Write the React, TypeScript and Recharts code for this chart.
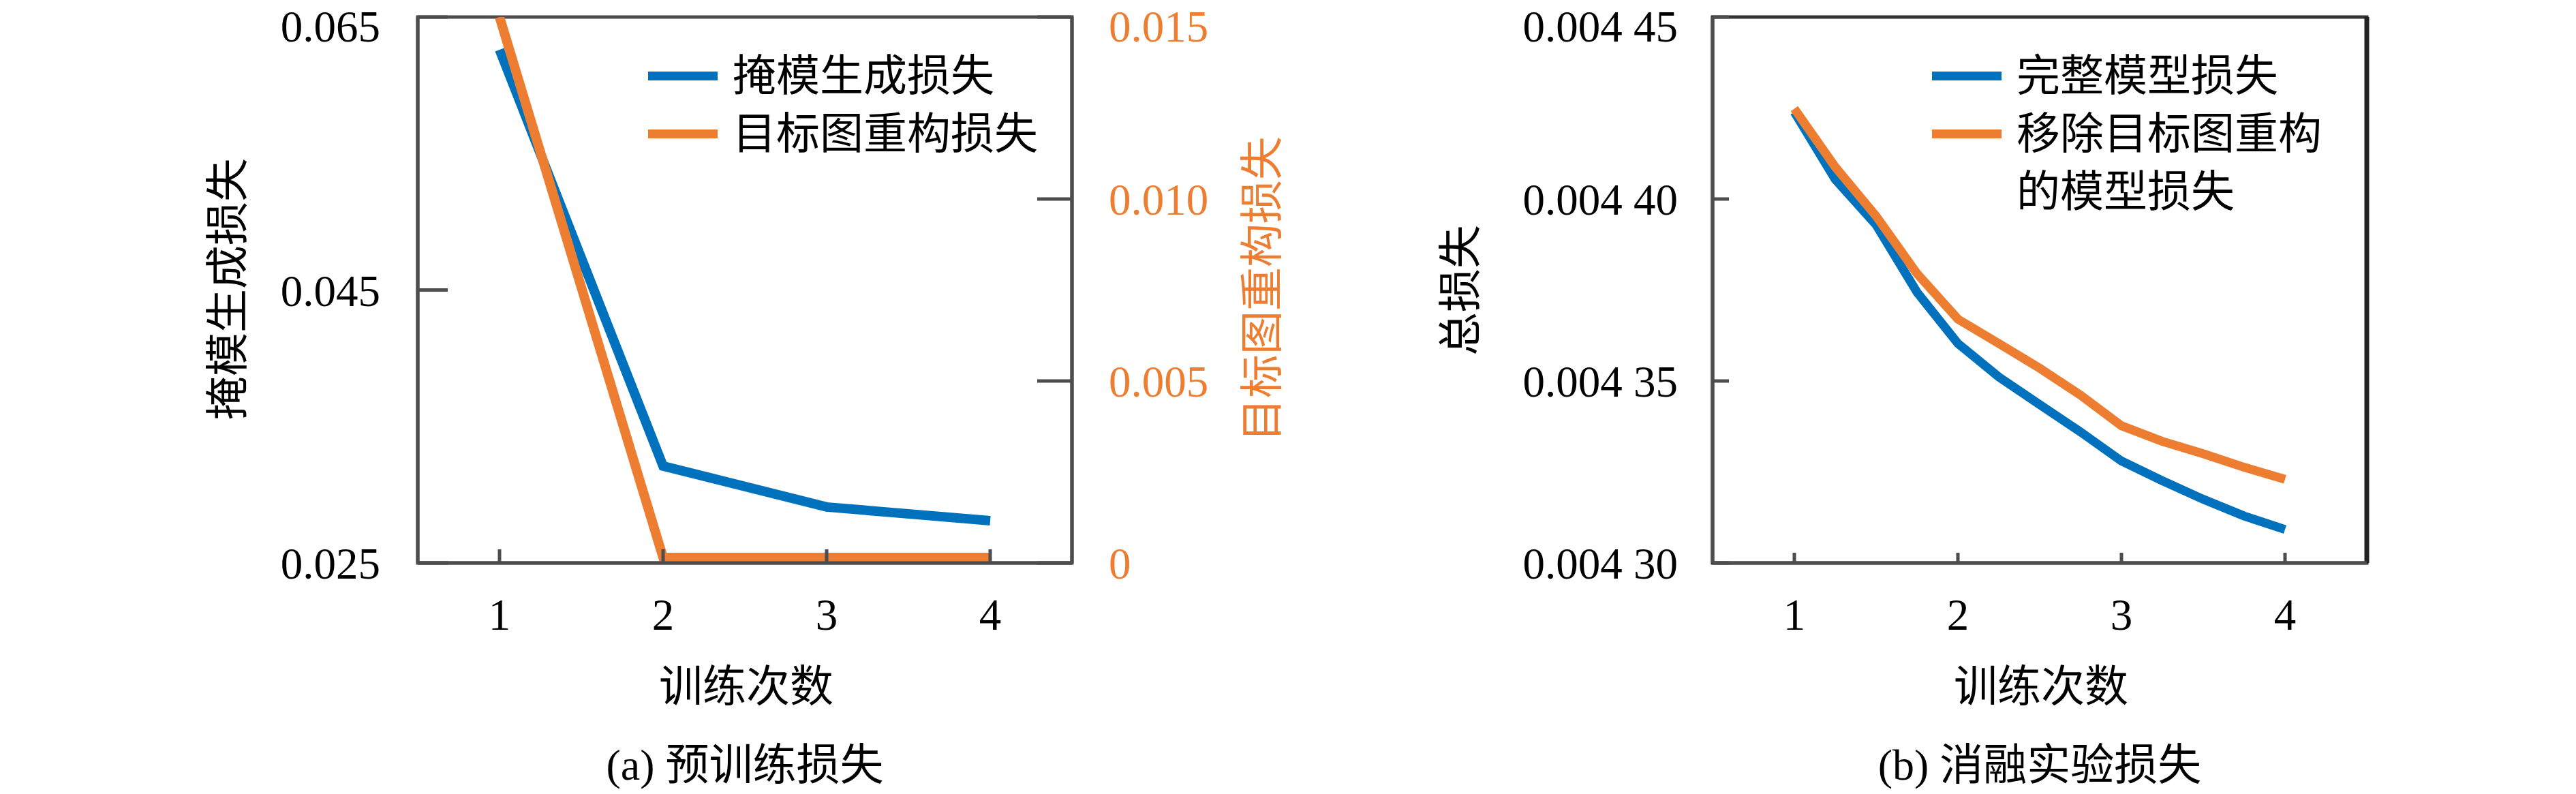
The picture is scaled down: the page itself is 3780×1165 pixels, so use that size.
import React from "react";
import {
  LineChart,
  Line,
  XAxis,
  YAxis,
  Legend,
  Label,
  ReferenceArea,
  ReferenceLine,
} from "recharts";

// (a) pre-training
const epochs = [1, 2, 3, 4];
const maskLoss = [0.0626, 0.0321, 0.0291, 0.0281];
const reconLoss = [0.015, 0.00015, 0.00015, 0.00015];
const maskDomain = [0.025, 0.065];
const maskTicks = [0.025, 0.045, 0.065];
const reconDomain = [0, 0.015];
const reconTicks = [0, 0.005, 0.01, 0.015];

// (b) ablation
const steps = [1, 1.25, 1.5, 1.75, 2, 2.25, 2.5, 2.75, 3, 3.25, 3.5, 3.75, 4];
const fullLoss = [
  0.0044239, 0.0044054, 0.0043929, 0.0043744, 0.0043603, 0.0043511, 0.0043435,
  0.004336, 0.004328, 0.0043226, 0.0043175, 0.0043129, 0.0043092,
];
const ablationLoss = [
  0.0044248, 0.0044088, 0.0043953, 0.0043795, 0.004367, 0.0043603, 0.0043535,
  0.0043461, 0.0043377, 0.0043334, 0.00433, 0.0043263, 0.004323,
];
const totalDomain = [0.0043, 0.00445];
const totalTicks = [0.0043, 0.00435, 0.0044, 0.00445];

const xDomain = [0.5, 4.5];
const xTicks = [1, 2, 3, 4];

const BLUE = "#0072BD";
const ORANGE = "#ED7D31";
const AXIS = "#4d4d4d";
const FONT = "'Liberation Serif', 'Noto Sans CJK SC', serif";

const pretrainData = epochs.map((x, i) => ({
  x,
  mask: maskLoss[i],
  recon: reconLoss[i],
}));
const ablationData = steps.map((x, i) => ({
  x,
  full: fullLoss[i],
  ablation: ablationLoss[i],
}));

const title = (cx: number, cy: number, text: string, rot = 0, color = "#000") => (
  <text
    x={cx}
    y={cy}
    textAnchor="middle"
    dominantBaseline="central"
    fill={color}
    fontSize={64}
    fontFamily={FONT}
    transform={rot ? `rotate(${rot} ${cx} ${cy})` : undefined}
  >
    {text}
  </text>
);

const LegendBox = (props: any) => {
  const { payload, textWidth } = props;
  return (
    <div style={{ fontFamily: FONT, fontSize: 64, lineHeight: "85px", color: "#000" }}>
      {(payload || []).map((p: any) => (
        <div key={p.value} style={{ display: "flex", alignItems: "flex-start" }}>
          <div
            style={{
              width: 102,
              height: 13,
              background: p.color,
              marginTop: 36,
              marginRight: 22,
              flexShrink: 0,
            }}
          />
          <div style={{ width: textWidth }}>{p.value}</div>
        </div>
      ))}
    </div>
  );
};

const tickStyle = { fontSize: 65, fontFamily: FONT, fill: "#000" };
const axisLine = { stroke: AXIS, strokeWidth: 5 };

const PretrainChart = () => (
  <LineChart
    width={1950}
    height={1165}
    data={pretrainData}
    margin={{ top: 25, right: 177, left: 413, bottom: 239 }}
  >
    <ReferenceArea
      yAxisId="l"
      x1={xDomain[0]}
      x2={xDomain[1]}
      y1={maskDomain[0]}
      y2={maskDomain[1]}
      fill="none"
      fillOpacity={0}
      stroke={AXIS}
      strokeWidth={5}
    >
      <Label content={() => title(1093, 1122, "(a) 预训练损失")} />
    </ReferenceArea>
    <XAxis
      dataKey="x"
      type="number"
      domain={xDomain}
      ticks={xTicks}
      height={100}
      tick={tickStyle}
      tickSize={-20}
      tickMargin={72}
      axisLine={axisLine}
      tickLine={axisLine}
    >
      <Label content={() => title(1095, 1007, "训练次数")} />
    </XAxis>
    <YAxis
      yAxisId="l"
      type="number"
      domain={maskDomain}
      ticks={maskTicks}
      width={200}
      tick={tickStyle}
      tickFormatter={(v: number) => v.toFixed(3)}
      tickSize={-44}
      tickMargin={99}
      axisLine={axisLine}
      tickLine={axisLine}
    >
      <Label content={() => title(334, 424, "掩模生成损失", -90)} />
    </YAxis>
    <YAxis
      yAxisId="r"
      orientation="right"
      type="number"
      domain={reconDomain}
      allowDataOverflow
      ticks={reconTicks}
      width={200}
      tick={{ ...tickStyle, fill: ORANGE }}
      tickFormatter={(v: number) => (v === 0 ? "0" : v.toFixed(3))}
      tickSize={-51}
      tickMargin={105}
      axisLine={axisLine}
      tickLine={axisLine}
    >
      <Label content={() => title(1852, 424, "目标图重构损失", -90, ORANGE)} />
    </YAxis>
    <Legend
      layout="horizontal"
      verticalAlign="middle"
      align="center"
      content={<LegendBox textWidth={480} />}
      wrapperStyle={{ left: 951, top: 69, width: 620, height: "auto" }}
    />
    <Line
      yAxisId="l"
      dataKey="mask"
      name="掩模生成损失"
      type="linear"
      stroke={BLUE}
      strokeWidth={14}
      dot={false}
      isAnimationActive={false}
    />
    <Line
      yAxisId="r"
      dataKey="recon"
      name="目标图重构损失"
      type="linear"
      stroke={ORANGE}
      strokeWidth={14}
      dot={false}
      isAnimationActive={false}
    />
  </LineChart>
);

const formatTotal = (v: number) => {
  const s = v.toFixed(5);
  return s.slice(0, 5) + " " + s.slice(5);
};

const AblationChart = () => (
  <LineChart
    width={1830}
    height={1165}
    data={ablationData}
    margin={{ top: 25, right: 307, left: 313, bottom: 239 }}
  >
    <ReferenceArea
      yAxisId="l"
      x1={xDomain[0]}
      x2={xDomain[1]}
      y1={totalDomain[0]}
      y2={totalDomain[1]}
      fill="none"
      fillOpacity={0}
      stroke="#333"
      strokeWidth={5}
    >
      <Label content={() => title(1043, 1122, "(b) 消融实验损失")} />
    </ReferenceArea>
    <ReferenceLine yAxisId="l" x={xDomain[1]} stroke="#222" strokeWidth={7} />
    <XAxis
      dataKey="x"
      type="number"
      domain={xDomain}
      ticks={xTicks}
      height={100}
      tick={tickStyle}
      tickSize={-15}
      tickMargin={67}
      axisLine={axisLine}
      tickLine={axisLine}
    >
      <Label content={() => title(1045, 1007, "训练次数")} />
    </XAxis>
    <YAxis
      yAxisId="l"
      type="number"
      domain={totalDomain}
      ticks={totalTicks}
      width={250}
      tick={tickStyle}
      tickFormatter={formatTotal}
      tickSize={-24}
      tickMargin={75}
      axisLine={axisLine}
      tickLine={axisLine}
    >
      <Label content={() => title(193, 426, "总损失", -90)} />
    </YAxis>
    <Legend
      layout="horizontal"
      verticalAlign="middle"
      align="center"
      content={<LegendBox textWidth={470} />}
      wrapperStyle={{ left: 885, top: 69, width: 620, height: "auto" }}
    />
    <Line
      yAxisId="l"
      dataKey="full"
      name="完整模型损失"
      type="linear"
      stroke={BLUE}
      strokeWidth={13}
      dot={false}
      isAnimationActive={false}
    />
    <Line
      yAxisId="l"
      dataKey="ablation"
      name="移除目标图重构的模型损失"
      type="linear"
      stroke={ORANGE}
      strokeWidth={13}
      dot={false}
      isAnimationActive={false}
    />
  </LineChart>
);

const App = () => (
  <div
    style={{
      position: "absolute",
      left: 0,
      top: 0,
      width: 3780,
      height: 1165,
      background: "#fff",
    }}
  >
    <div style={{ position: "absolute", left: 0, top: 0 }}>
      <PretrainChart />
    </div>
    <div style={{ position: "absolute", left: 1950, top: 0 }}>
      <AblationChart />
    </div>
  </div>
);

export default App;
